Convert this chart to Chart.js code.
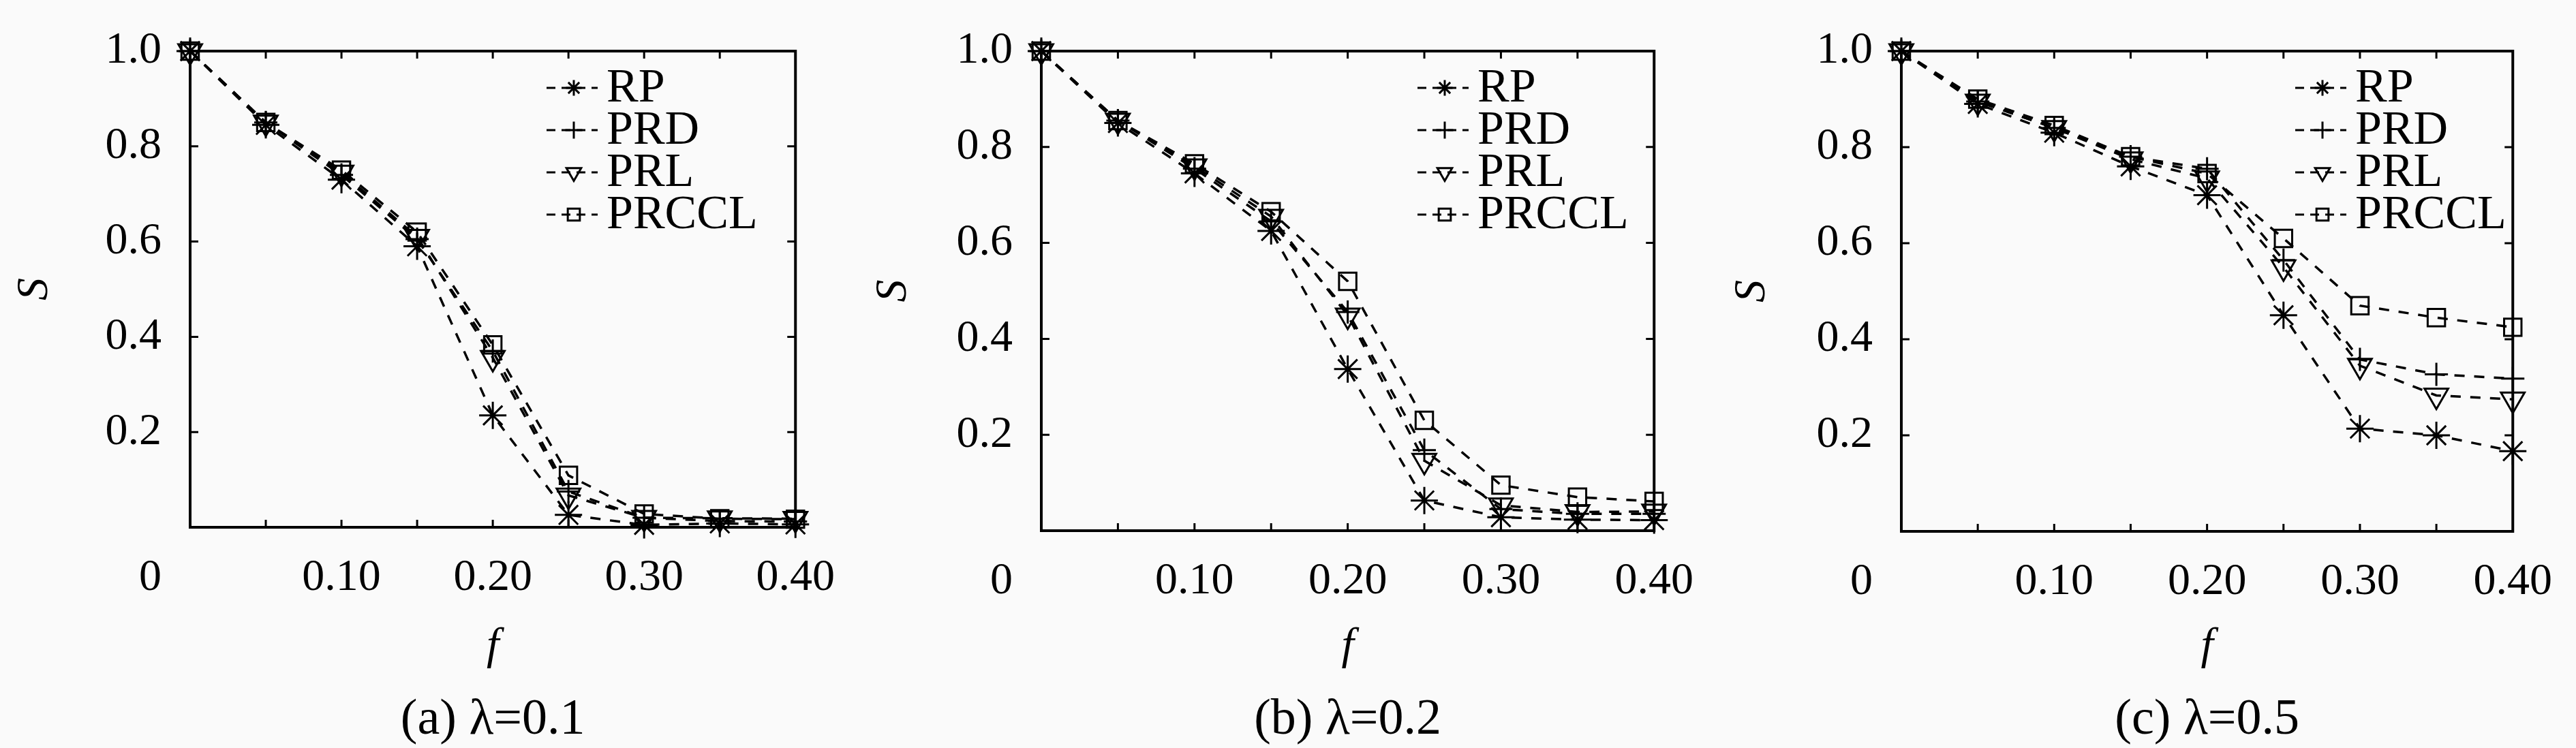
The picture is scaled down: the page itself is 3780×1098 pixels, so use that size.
<!DOCTYPE html>
<html>
<head>
<meta charset="utf-8">
<script src="https://cdn.jsdelivr.net/npm/chart.js@4.4.1/dist/chart.umd.min.js"></script>
<style>
  html, body { margin: 0; padding: 0; background: #fafafa; }
  #wrap { position: relative; width: 3780px; height: 1098px; }
  canvas { position: absolute; top: 0; }
</style>
</head>
<body>
<div id="wrap">
  <canvas id="c0" width="1260" height="1098" style="left:0px"></canvas>
  <canvas id="c1" width="1260" height="1098" style="left:1260px"></canvas>
  <canvas id="c2" width="1260" height="1098" style="left:2520px"></canvas>
</div>
<script>
// x values (f) shared by all three panels
var fValues = [0, 0.05, 0.10, 0.15, 0.20, 0.25, 0.30, 0.35, 0.40]
var seriesNames = ['RP', 'PRD', 'PRL', 'PRCCL']
var captions = ['(a) \u03bb=0.1', '(b) \u03bb=0.2', '(c) \u03bb=0.5']
var yTicks = [0, 0.2, 0.4, 0.6, 0.8, 1.0]
var xTickLabels = ['0.10', '0.20', '0.30', '0.40']

// (a) lambda = 0.1
var rpA    = [1.0, 0.845, 0.73, 0.59, 0.235, 0.026, 0.005, 0.008, 0.006]
var prdA   = [1.0, 0.85, 0.74, 0.605, 0.37, 0.075, 0.02, 0.013, 0.012]
var prlA   = [1.0, 0.85, 0.745, 0.61, 0.356, 0.067, 0.02, 0.019, 0.018]
var prcclA = [1.0, 0.85, 0.75, 0.62, 0.383, 0.109, 0.028, 0.018, 0.017]

// (b) lambda = 0.2
var rpB    = [1.0, 0.85, 0.745, 0.625, 0.337, 0.063, 0.028, 0.023, 0.022]
var prdB   = [1.0, 0.855, 0.755, 0.645, 0.456, 0.168, 0.045, 0.035, 0.035]
var prlB   = [1.0, 0.855, 0.76, 0.655, 0.449, 0.146, 0.053, 0.039, 0.04]
var prcclB = [1.0, 0.855, 0.765, 0.665, 0.52, 0.23, 0.095, 0.07, 0.061]

// (c) lambda = 0.5
var rpC    = [1.0, 0.89, 0.83, 0.76, 0.70, 0.45, 0.214, 0.20, 0.167]
var prdC   = [1.0, 0.895, 0.84, 0.78, 0.755, 0.565, 0.358, 0.327, 0.318]
var prlC   = [1.0, 0.895, 0.84, 0.775, 0.735, 0.55, 0.345, 0.283, 0.275]
var prcclC = [1.0, 0.90, 0.845, 0.78, 0.745, 0.61, 0.47, 0.445, 0.425]

var panelData = [
  [rpA, prdA, prlA, prcclA],
  [rpB, prdB, prlB, prcclB],
  [rpC, prdC, prlC, prcclC]
]

// plot box of each panel inside its canvas: left, right, top, bottom, legend x
var boxes = [
  { l: 279, r: 1183, t: 33, b: 774, lx: 802 },
  { l: 268, r: 1176, t: 31, b: 779, lx: 820 },
  { l: 270, r: 1174, t: 31, b: 780, lx: 848 }
]

var markers = [
  { pointStyle: 'star', radius: 20, rotation: 0, legendRadius: 11.5 },
  { pointStyle: 'cross', radius: 17, rotation: 0, legendRadius: 12.5 },
  { pointStyle: 'triangle', radius: 20, rotation: 180, legendRadius: 12.5 },
  { pointStyle: 'rect', radius: 18, rotation: 0, legendRadius: 12.5 }
]

var FONT = "'Liberation Serif', 'DejaVu Serif', serif"
var TICK_SIZE = 66
var CAPTION_SIZE = 74
var CAPTION_LH = 1.1
var XTICK_PAD = 35

Chart.defaults.font.family = FONT
Chart.defaults.color = '#000'

// frame with inward ticks on all four sides
var framePlugin = {
  id: 'frame',
  beforeDatasetsDraw: function (chart) {
    var ctx = chart.ctx
    var a = chart.chartArea
    var xs = chart.scales.x
    var ys = chart.scales.y
    ctx.save()
    ctx.strokeStyle = '#000'
    ctx.lineWidth = 3
    xs.ticks.forEach(function (t) {
      if (t.value <= 0.001 || t.value >= 0.399) return
      var px = xs.getPixelForValue(t.value)
      ctx.beginPath()
      ctx.moveTo(px, a.bottom); ctx.lineTo(px, a.bottom - 11)
      ctx.moveTo(px, a.top); ctx.lineTo(px, a.top + 11)
      ctx.stroke()
    })
    ys.ticks.forEach(function (t) {
      if (t.value <= 0.001 || t.value >= 0.999) return
      var py = ys.getPixelForValue(t.value)
      ctx.beginPath()
      ctx.moveTo(a.left, py); ctx.lineTo(a.left + 12, py)
      ctx.moveTo(a.right, py); ctx.lineTo(a.right - 12, py)
      ctx.stroke()
    })
    ctx.lineWidth = 4
    ctx.strokeRect(a.left, a.top, a.right - a.left, a.bottom - a.top)
    // the lone origin label, set to the left of the corner
    ctx.fillStyle = '#000'
    ctx.font = TICK_SIZE + 'px ' + FONT
    ctx.textAlign = 'right'
    ctx.textBaseline = 'middle'
    ctx.fillText('0', a.left - 42, xs.top + XTICK_PAD + TICK_SIZE * 1.2 / 2)
    ctx.restore()
  }
}

// legend: dashed sample line with marker, text to the right
var legendPlugin = {
  id: 'dashLegend',
  afterDraw: function (chart, args, opts) {
    var ctx = chart.ctx
    var a = chart.chartArea
    ctx.save()
    chart.data.datasets.forEach(function (ds, i) {
      var y = a.top + 54 + i * 62
      var x0 = opts.x
      ctx.strokeStyle = '#000'
      ctx.lineWidth = 3
      ctx.setLineDash([13, 9])
      ctx.beginPath()
      ctx.moveTo(x0, y)
      ctx.lineTo(x0 + 75, y)
      ctx.stroke()
      ctx.setLineDash([])
      ctx.fillStyle = 'rgba(0,0,0,0)'
      Chart.helpers.drawPoint(ctx, {
        pointStyle: ds.pointStyle,
        rotation: ds.pointRotation,
        radius: markers[i].legendRadius,
        borderWidth: 3
      }, x0 + 40, y)
      ctx.fillStyle = '#000'
      ctx.font = '70px ' + FONT
      ctx.textAlign = 'left'
      ctx.textBaseline = 'middle'
      ctx.fillText(ds.label, x0 + 88, y + 2)
    })
    ctx.restore()
  }
}

function makePanel(idx) {
  var box = boxes[idx]
  var datasets = panelData[idx].map(function (arr, i) {
    return {
      label: seriesNames[i],
      data: fValues.map(function (f, k) { return { x: f, y: arr[k] } }),
      borderColor: '#000',
      borderWidth: 3.5,
      borderDash: [15, 14],
      fill: false,
      tension: 0,
      clip: false,
      pointStyle: markers[i].pointStyle,
      pointRadius: markers[i].radius,
      pointRotation: markers[i].rotation,
      pointBorderWidth: 3,
      pointBorderColor: '#000',
      pointBackgroundColor: 'rgba(0,0,0,0)'
    }
  })

  new Chart(document.getElementById('c' + idx), {
    type: 'line',
    data: { datasets: datasets },
    options: {
      responsive: false,
      animation: false,
      devicePixelRatio: 1,
      layout: { padding: { left: 0, top: box.t, right: 1260 - box.r, bottom: 0 } },
      scales: {
        x: {
          type: 'linear',
          min: 0,
          max: 0.4,
          grid: { display: false, drawTicks: false },
          border: { display: false },
          ticks: {
            stepSize: 0.05,
            autoSkip: false,
            maxRotation: 0,
            minRotation: 0,
            padding: XTICK_PAD,
            font: { size: TICK_SIZE, lineHeight: 1.2 },
            callback: function (v) {
              var lbl = v.toFixed(2)
              return xTickLabels.indexOf(lbl) >= 0 ? lbl : ''
            }
          },
          title: {
            display: true,
            text: 'f',
            font: { size: TICK_SIZE, style: 'italic', lineHeight: 1.2 },
            padding: { top: 0, bottom: 27 }
          },
          afterFit: function (s) { s.height = 1098 - CAPTION_SIZE * CAPTION_LH - box.b }
        },
        y: {
          min: 0,
          max: 1,
          grid: { display: false, drawTicks: false },
          border: { display: false },
          ticks: {
            stepSize: 0.2,
            padding: 42,
            font: { size: TICK_SIZE, lineHeight: 1 },
            callback: function (v) {
              var hit = yTicks.some(function (t) { return Math.abs(t - v) < 1e-6 })
              return (hit && v > 0.001) ? v.toFixed(1) : ''
            }
          },
          title: {
            display: true,
            text: 'S',
            font: { size: TICK_SIZE, style: 'italic', lineHeight: 1.2 },
            padding: { top: 12, bottom: 0 }
          },
          afterFit: function (s) { s.width = box.l }
        }
      },
      plugins: {
        legend: { display: false },
        tooltip: { enabled: false },
        title: {
          display: true,
          position: 'bottom',
          fullSize: false,
          text: captions[idx],
          font: { size: CAPTION_SIZE, weight: 'normal', lineHeight: CAPTION_LH },
          padding: 0,
          color: '#000'
        },
        dashLegend: { x: box.lx }
      }
    },
    plugins: [framePlugin, legendPlugin]
  })
}

makePanel(0)
makePanel(1)
makePanel(2)
</script>
</body>
</html>
